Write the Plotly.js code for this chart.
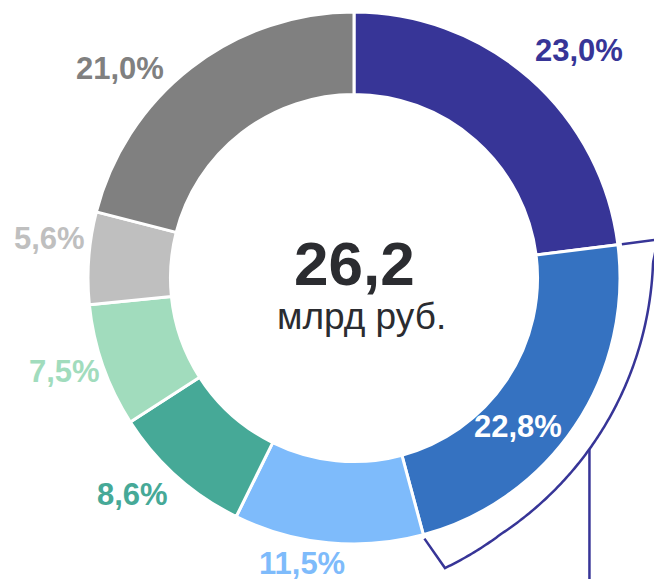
<!DOCTYPE html>
<html><head><meta charset="utf-8">
<script src="https://cdn.plot.ly/plotly-3.0.1.min.js"></script>
<style>html,body{margin:0;padding:0;background:#fff}#chart{width:654px;height:579px}</style>
</head><body><div id="chart"></div>
<script>
// ---- data ----
const segments = ['Сегмент 1', 'Сегмент 2', 'Сегмент 3', 'Сегмент 4', 'Сегмент 5', 'Сегмент 6', 'Сегмент 7'];
const shares = [23.0, 22.8, 11.5, 8.6, 7.5, 5.6, 21.0];
const totalValue = '26,2';
const totalUnit = 'млрд руб.';
const highlightedIndex = 1;

// ---- styles / layout ----
const sliceColors = ['#373597', '#3572C1', '#7EBBFB', '#46A997', '#A1DCBD', '#BFBFBF', '#808080'];
const labelColors = ['#373597', '#FFFFFF', '#7EBBFB', '#46A997', '#A1DCBD', '#BFBFBF', '#808080'];
const labelShift = [3.3, 8.3, 4.8, 3.9, 1.4, 3.0, -10.3];   // degrees from slice mid-angle
const labelRadius = [320, 221, 290, 310, 304, 306.5, 314];   // px from centre
const W = 654, H = 579;
const cx = 354, cy = 278, R = 266;
const FONT = 'Liberation Sans, Arial, sans-serif';
const bracketColor = '#373597';

const px = x => x / W, py = y => 1 - y / H;
const total = shares.reduce((a, b) => a + b, 0);
const starts = [], ends = [], mids = [];
let cum = 0;
shares.forEach(v => {
  const s = cum / total * 360; cum += v; const e = cum / total * 360;
  starts.push(s); ends.push(e); mids.push((s + e) / 2);
});
function pt(theta, r) { const t = theta * Math.PI / 180; return [cx + r * Math.sin(t), cy - r * Math.cos(t)]; }
const fmt = v => v.toFixed(1).replace('.', ',') + '%';

const trace = {
  type: 'pie',
  labels: segments,
  values: shares,
  sort: false,
  direction: 'clockwise',
  rotation: 0,
  hole: 0.69,
  textinfo: 'none',
  hoverinfo: 'skip',
  marker: { colors: sliceColors, line: { color: '#FFFFFF', width: 3 } },
  domain: { x: [(cx - R) / W, (cx + R) / W], y: [1 - (cy + R) / H, 1 - (cy - R) / H] },
  showlegend: false
};

const annotations = shares.map((v, i) => {
  const p = pt(mids[i] + labelShift[i], labelRadius[i]);
  return {
    xref: 'paper', yref: 'paper', x: px(p[0]), y: py(p[1]),
    xanchor: 'center', yanchor: 'middle', showarrow: false,
    text: fmt(v),
    font: { family: FONT, size: 31, color: labelColors[i], weight: 'bold' }
  };
});
annotations.push({
  xref: 'paper', yref: 'paper', x: px(354), y: py(263), xanchor: 'center', yanchor: 'middle', showarrow: false,
  text: totalValue, font: { family: FONT, size: 62, color: '#2B2C30', weight: 'bold' }
});
annotations.push({
  xref: 'paper', yref: 'paper', x: px(361), y: py(316), xanchor: 'center', yanchor: 'middle', showarrow: false,
  text: totalUnit, font: { family: FONT, size: 37, color: '#2B2C30' }
});

// bracket around highlighted slice
const a0 = starts[highlightedIndex], a1 = ends[highlightedIndex];
const rb = th => 291 + 0.0062 * (th - 124) * (th - 124) + Math.max(0, 87 - th) * 1.0 + Math.max(0, th - 150) * 0.3;
const aEnd = a1 - 2.3;
const pts = [pt(a0, 270)];
for (let th = a0; th < aEnd; th += 0.5) pts.push(pt(th, rb(th)));
pts.push(pt(aEnd, rb(aEnd)));
pts.push(pt(a1, 270));
const path = pts.map((p, i) => (i ? 'L' : 'M') + px(p[0]).toFixed(5) + ',' + py(p[1]).toFixed(5)).join(' ');
const attach = pt(126, rb(126));
const shapes = [
  { type: 'path', xref: 'paper', yref: 'paper', path: path, line: { color: bracketColor, width: 2.5 } },
  { type: 'line', xref: 'paper', yref: 'paper', x0: px(attach[0]), y0: py(attach[1]), x1: px(attach[0]), y1: py(H + 10),
    line: { color: bracketColor, width: 2.5 } }
];

Plotly.newPlot('chart', [trace], {
  width: W, height: H,
  margin: { l: 0, r: 0, t: 0, b: 0 },
  paper_bgcolor: '#FFFFFF',
  showlegend: false,
  annotations: annotations,
  shapes: shapes
}, { displayModeBar: false, staticPlot: true });
</script>
</body></html>
